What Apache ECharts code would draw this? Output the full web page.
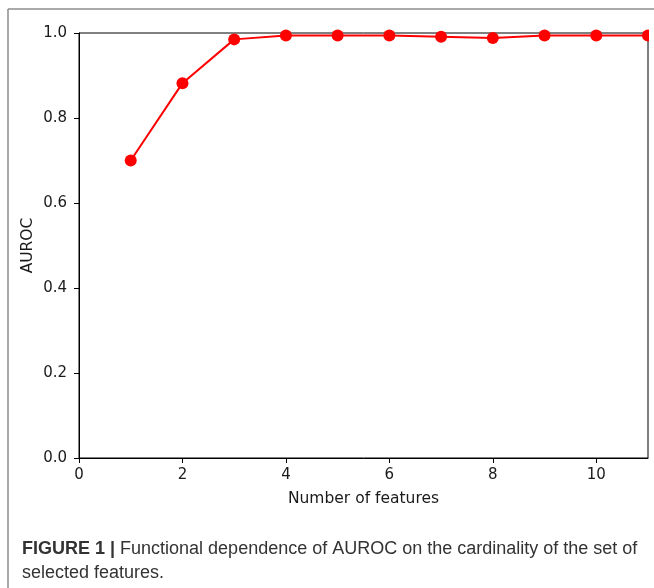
<!DOCTYPE html>
<html>
<head>
<meta charset="utf-8">
<script src="https://cdn.jsdelivr.net/npm/echarts@6/dist/echarts.min.js"></script>
<style>html,body{margin:0;padding:0;background:#fff;}#c{width:654px;height:588px;}</style>
</head>
<body>
<div id="c"></div>
<script>
var features = [1, 2, 3, 4, 5, 6, 7, 8, 9, 10, 11];
var auroc = [0.70, 0.882, 0.985, 0.994, 0.994, 0.994, 0.991, 0.988, 0.994, 0.994, 0.994];
var xTicks = [0, 2, 4, 6, 8, 10];
var yTicks = [0.0, 0.2, 0.4, 0.6, 0.8, 1.0];

var chart = echarts.init(document.getElementById('c'), null, {renderer: 'canvas'});
var tickFont = {fontFamily: 'DejaVu Sans', fontSize: 15, color: '#1a1a1a'};
chart.setOption({
  animation: false,
  backgroundColor: '#fff',
  grid: {left: 79, right: 6, top: 33, bottom: 130, show: true, borderColor: '#000', borderWidth: 1, backgroundColor: 'transparent'},
  xAxis: {
    type: 'value', min: 0, max: 11, interval: 2,
    name: 'Number of features', nameLocation: 'middle', nameGap: 33,
    nameTextStyle: {fontFamily: 'DejaVu Sans', fontSize: 15.5, color: '#1a1a1a'},
    axisLine: {show: true, onZero: false, lineStyle: {color: '#000', width: 1}},
    axisTick: {show: true, length: 5, lineStyle: {color: '#000'}},
    axisLabel: Object.assign({margin: 10, showMaxLabel: false, formatter: function (v) { return xTicks.indexOf(v) >= 0 ? String(v) : ''; }}, tickFont),
    splitLine: {show: false}
  },
  yAxis: {
    type: 'value', min: 0, max: 1, interval: 0.2,
    name: 'AUROC', nameLocation: 'middle', nameGap: 43, nameMoveOverlap: false,
    nameTextStyle: {fontFamily: 'DejaVu Sans', fontSize: 15.5, color: '#1a1a1a'},
    axisLine: {show: true, onZero: false, lineStyle: {color: '#000', width: 1}},
    axisTick: {show: true, length: 5, lineStyle: {color: '#000'}},
    axisLabel: Object.assign({margin: 12, formatter: function (v) { return v.toFixed(1); }}, tickFont),
    splitLine: {show: false}
  },
  series: [{
    type: 'line',
    data: features.map(function (f, i) { return [f, auroc[i]]; }),
    symbol: 'circle', symbolSize: 12,
    clip: false,
    lineStyle: {color: '#ff0000', width: 2},
    itemStyle: {color: '#ff0000'},
    z: 1
  }],
  graphic: [
    {type: 'rect', shape: {x: 649, y: 20, width: 10, height: 430}, style: {fill: '#fff'}, z: 100},
    {type: 'line', shape: {x1: 8, y1: 9, x2: 660, y2: 9}, style: {stroke: '#8c8c8c', lineWidth: 1.5}, z: 100},
    {type: 'line', shape: {x1: 8, y1: 9, x2: 8, y2: 600}, style: {stroke: '#8c8c8c', lineWidth: 1.5}, z: 100},
    {type: 'text', left: 22, top: 537, z: 100, style: {
      text: '{b|FIGURE 1 |} Functional dependence of AUROC on the cardinality of the set of\nselected features.',
      fontFamily: 'Liberation Sans', fontSize: 18, lineHeight: 24, fill: '#333',
      rich: {b: {fontFamily: 'Liberation Sans', fontSize: 18, fontWeight: 'bold', fill: '#333', lineHeight: 24}}
    }}
  ]
});
</script>
</body>
</html>
